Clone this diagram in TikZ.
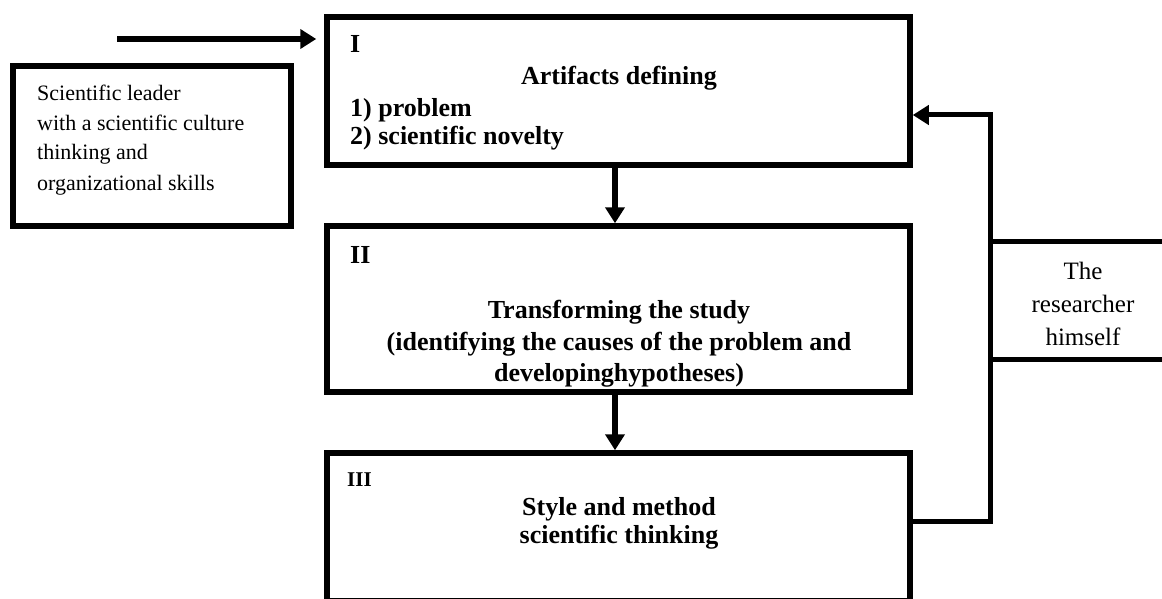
\documentclass[tikz,border=0pt]{standalone}
\usepackage{fontspec}
\setmainfont{Liberation Serif}
\usetikzlibrary{arrows.meta}
\begin{document}
\begin{tikzpicture}[x=1pt,y=-1pt,
  box/.style={draw, line width=5.5pt, inner sep=0pt, rectangle},
  arr/.style={line width=6pt, -{Triangle[length=16pt,width=19pt]}},
  fbline/.style={line width=5pt},
  bt/.style={font=\bfseries\fontsize{26}{30}\selectfont, inner sep=0pt},
  st/.style={font=\bfseries\fontsize{21}{26}\selectfont, inner sep=0pt},
  rt/.style={font=\fontsize{22}{30}\selectfont, inner sep=0pt},
  ht/.style={font=\fontsize{25}{33}\selectfont, inner sep=0pt},
]
\useasboundingbox (0,0) rectangle (1162,599);
\clip (0,0) rectangle (1162,599);

% boxes
\node[box, minimum width=583pt, minimum height=148pt] (box1) at (618.5,91) {};
\node[box, minimum width=583pt, minimum height=166pt] (box2) at (618.5,309) {};
\node[box, minimum width=583pt, minimum height=148pt] (box3) at (618.5,527) {};
\node[box, minimum width=278pt, minimum height=160pt] (lead) at (152,146) {};

% left box text
\node[rt, anchor=base west] (l1) at (37,101) {Scientific leader};
\node[rt, anchor=base west] (l2) at (37,131) {with a scientific culture};
\node[rt, anchor=base west] (l3) at (37,160) {thinking and};
\node[rt, anchor=base west] (l4) at (37,190) {organizational skills};

% box I text
\node[bt, anchor=base west] (n1) at (350,53) {I};
\node[bt, anchor=base] (a1) at (619,85) {Artifacts defining};
\node[bt, anchor=base west] (a2) at (350,117) {1) problem};
\node[bt, anchor=base west] (a3) at (350,145) {2) scientific novelty};

% box II text
\node[bt, anchor=base west] (n2) at (350,263) {II};
\node[bt, anchor=base] (b1) at (619,318) {Transforming the study};
\node[bt, anchor=base] (b2) at (619,350) {(identifying the causes of the problem and};
\node[bt, anchor=base] (b3) at (619,381) {developinghypotheses)};

% box III text
\node[st, anchor=base west] (n3) at (347,486) {III};
\node[bt, anchor=base] (c1) at (619,515) {Style and method};
\node[bt, anchor=base] (c2) at (619,543) {scientific thinking};

% researcher
\coordinate (rA) at (990,241);
\coordinate (rB) at (1166,241);
\coordinate (rC) at (990,359);
\coordinate (rD) at (1166,359);
\draw[fbline] (rA) -- (rB);
\draw[fbline] (rC) -- (rD);
\node[ht, anchor=base] (h1) at (1083,279) {The};
\node[ht, anchor=base] (h2) at (1083,312) {researcher};
\node[ht, anchor=base] (h3) at (1083,345) {himself};

% connectors
\coordinate (src) at (117,39);
\draw[arr, shorten >=8pt] (src) -- (src -| box1.west);
\draw[arr] (box1.south -| 615,0) -- (box2.north -| 615,0);
\draw[arr] (box2.south -| 615,0) -- (box3.north -| 615,0);
\coordinate (fbA) at (990,521);
\coordinate (fbB) at (990,115);
\draw[arr, line width=5pt] (box3.east |- fbA) -- (fbA) -- (fbB) -- (box1.east |- fbB);
\end{tikzpicture}
\end{document}
